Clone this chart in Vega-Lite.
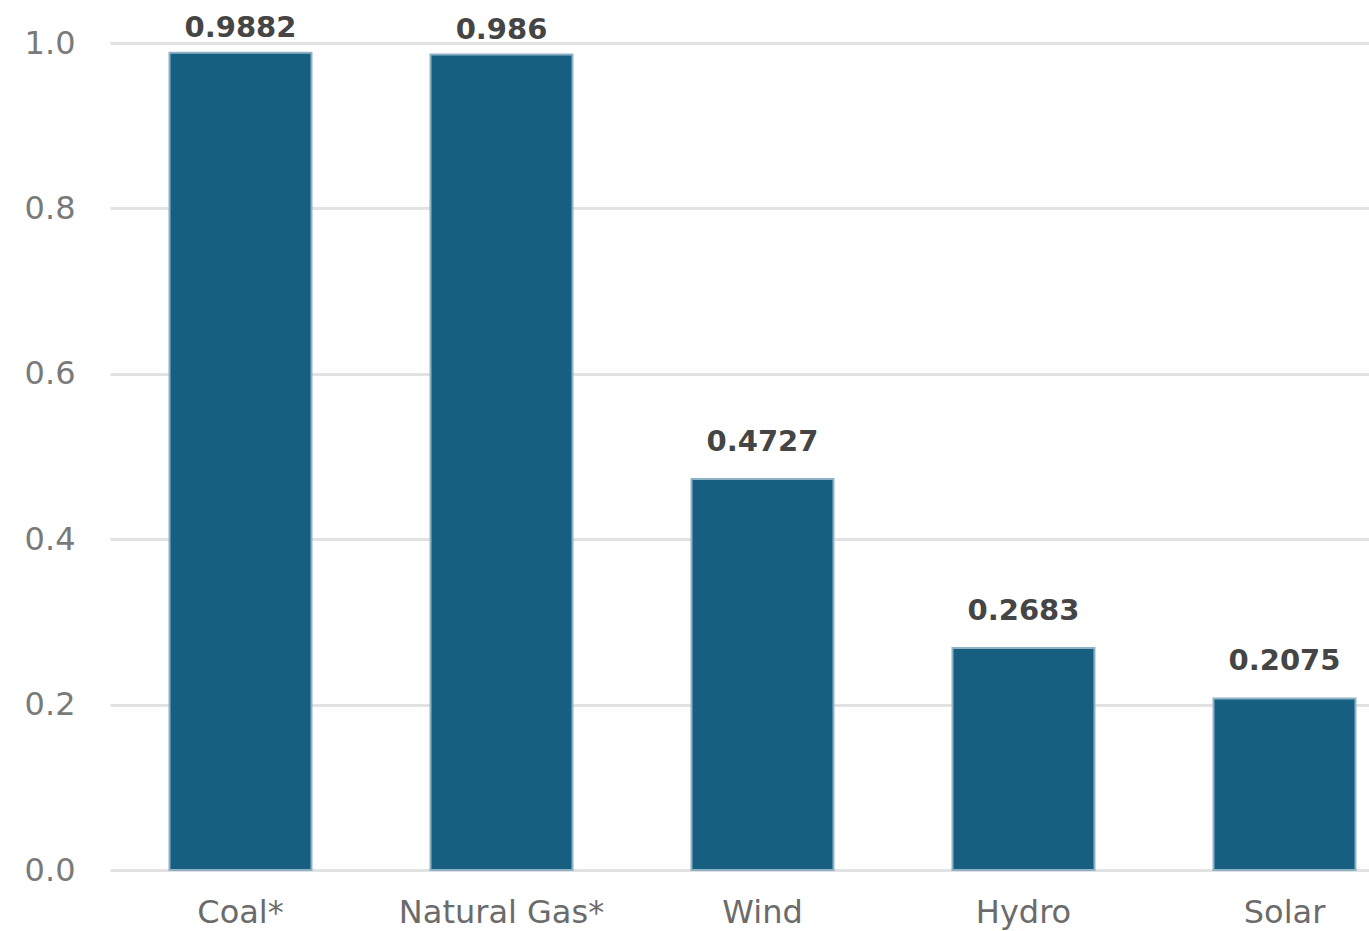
{
  "$schema": "https://vega.github.io/schema/vega-lite/v6.json",
  "autosize": {"type": "none"},
  "padding": {"left": 110, "top": 43, "right": 0, "bottom": 61},
  "width": 1305,
  "height": 827,
  "background": "white",
  "data": {"values": [
    {"source": "Coal*", "value": 0.9882, "label": "0.9882"},
    {"source": "Natural Gas*", "value": 0.986, "label": "0.986"},
    {"source": "Wind", "value": 0.4727, "label": "0.4727"},
    {"source": "Hydro", "value": 0.2683, "label": "0.2683"},
    {"source": "Solar", "value": 0.2075, "label": "0.2075"}
  ]},
  "config": {
    "view": {"stroke": null},
    "font": "DejaVu Sans"
  },
  "encoding": {
    "x": {
      "field": "source", "type": "nominal", "sort": null, "title": null,
      "scale": {"paddingInner": 0.456, "paddingOuter": 0.228},
      "axis": {"domain": false, "ticks": false, "labelAngle": 0, "labelFontSize": 32, "labelLimit": 0, "labelColor": "#6b6b6b", "labelPadding": 27, "labelFont": "DejaVu Sans", "grid": false}
    },
    "y": {
      "field": "value", "type": "quantitative", "title": null,
      "scale": {"domain": [0, 1], "nice": false},
      "axis": {"values": [0, 0.2, 0.4, 0.6, 0.8, 1.0], "format": ".1f", "domain": false, "ticks": false, "labelFontSize": 32, "labelColor": "#7a7a7a", "labelPadding": 35, "gridColor": "#e2e2e2", "gridWidth": 3, "labelFont": "DejaVu Sans"}
    }
  },
  "layer": [
    {
      "mark": {"type": "bar", "color": "#175f80", "stroke": "#8db2c6", "strokeWidth": 2}
    },
    {
      "transform": [{"filter": "datum.value > 0.9"}],
      "mark": {"type": "text", "baseline": "alphabetic", "dy": -16, "fontSize": 29, "fontWeight": "bold", "color": "#454545", "font": "DejaVu Sans"},
      "encoding": {"text": {"field": "label"}}
    },
    {
      "transform": [{"filter": "datum.value <= 0.9"}],
      "mark": {"type": "text", "baseline": "alphabetic", "dy": -28, "fontSize": 29, "fontWeight": "bold", "color": "#454545", "font": "DejaVu Sans"},
      "encoding": {"text": {"field": "label"}}
    }
  ]
}
